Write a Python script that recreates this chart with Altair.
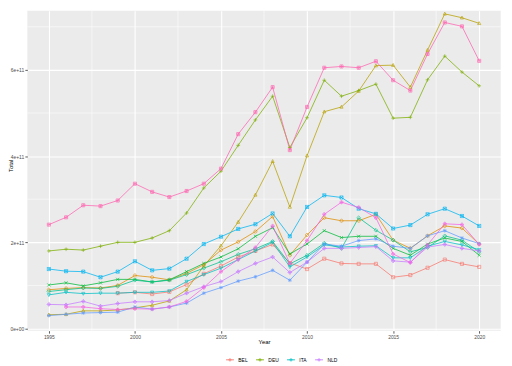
import altair as alt
import pandas as pd

years = list(range(1995, 2021))
countries = ["BEL", "CAN", "CHN", "DEU", "ESP", "FRA", "ITA", "JPN", "KOR", "NLD", "SGP", "USA"]
colors = ["#F8766D", "#DE8C00", "#B79F00", "#7CAE00", "#00BA38", "#00C08B",
          "#00BFC4", "#00B4F0", "#619CFF", "#C77CFF", "#F564E3", "#FF64B0"]
legend_values = ["BEL", "DEU", "ITA", "NLD"]

# values in units of 1e11
BEL = [None, None, None, None, 0.82, 0.84, 0.80, 0.85, 1.02, 1.27, 1.45, 1.66, 1.80, 1.95, 1.52,
       1.38, 1.62, 1.51, 1.50, 1.50, 1.19, 1.24, 1.41, 1.60, 1.50, 1.43]
CAN = [0.90, 0.93, 0.95, 0.94, 1.00, 1.23, 1.19, 1.13, 1.28, 1.48, 1.82, 2.01, 2.25, 2.60, 1.70,
       2.17, 2.57, 2.50, 2.50, 2.65, 2.05, 1.86, 2.15, 2.38, 2.33, 1.96]
CHN = [0.32, 0.33, 0.41, 0.41, 0.43, 0.48, 0.54, 0.64, 0.90, 1.45, 1.92, 2.47, 3.10, 3.88, 2.82,
       4.01, 5.03, 5.14, 5.51, 6.10, 6.11, 5.60, 6.46, 7.30, 7.21, 7.08]
DEU = [1.80, 1.84, 1.82, 1.91, 2.00, 2.00, 2.10, 2.27, 2.68, 3.26, 3.65, 4.25, 4.84, 5.39, 4.20,
       4.89, 5.76, 5.39, 5.52, 5.67, 4.88, 4.90, 5.77, 6.32, 5.95, 5.63]
ESP = [1.01, 1.06, 0.99, 1.06, 1.14, 1.14, 1.08, 1.13, 1.32, 1.51, 1.66, 1.85, 2.14, 2.34, 1.73,
       1.96, 2.27, 2.11, 2.14, 2.14, 1.86, 1.70, 1.96, 2.10, 2.02, 1.70]
FRA = [0.86, 0.90, 0.94, 0.93, 0.98, 1.12, 1.08, 1.12, 1.25, 1.40, 1.55, 1.72, 1.85, 2.02, 1.50,
       1.70, 1.98, 1.86, 2.57, 2.28, 2.05, 1.78, 1.88, 2.15, 2.05, 1.78]
ITA = [0.78, 0.84, 0.81, 0.82, 0.82, 0.84, 0.84, 0.87, 1.09, 1.25, 1.40, 1.60, 1.80, 2.00, 1.43,
       1.66, 1.94, 1.89, 1.91, 1.92, 1.64, 1.64, 1.91, 2.02, 1.94, 1.83]
JPN = [1.38, 1.33, 1.32, 1.19, 1.32, 1.56, 1.35, 1.39, 1.62, 1.96, 2.13, 2.31, 2.42, 2.67, 2.14,
       2.82, 3.09, 3.04, 2.78, 2.66, 2.32, 2.40, 2.65, 2.78, 2.61, 2.38]
KOR = [0.30, 0.33, 0.36, 0.37, 0.38, 0.50, 0.45, 0.50, 0.59, 0.82, 0.95, 1.10, 1.20, 1.35, 1.12,
       1.54, 1.96, 1.91, 2.04, 2.08, 1.91, 1.86, 2.15, 2.27, 2.10, 1.97]
NLD = [0.56, 0.55, 0.63, 0.52, 0.58, 0.62, 0.62, 0.65, 0.82, 0.97, 1.09, 1.32, 1.51, 1.66, 1.30,
       1.54, 1.86, 1.86, 1.88, 1.90, 1.57, 1.54, 1.89, 1.95, 1.86, 1.80]
SGP = [None, 0.50, 0.50, 0.46, 0.44, 0.46, 0.45, 0.50, 0.63, 0.95, 1.32, 1.60, 1.88, 2.38, 1.51,
       2.04, 2.65, 2.93, 2.81, 2.57, 1.73, 1.53, 1.94, 2.43, 2.41, 1.95]
USA = [2.41, 2.58, 2.86, 2.84, 2.97, 3.36, 3.17, 3.05, 3.19, 3.36, 3.71, 4.51, 5.02, 5.60, 4.14,
       5.14, 6.05, 6.08, 6.05, 6.20, 5.76, 5.52, 6.37, 7.10, 7.01, 6.21]

series = dict(BEL=BEL, CAN=CAN, CHN=CHN, DEU=DEU, ESP=ESP, FRA=FRA, ITA=ITA,
              JPN=JPN, KOR=KOR, NLD=NLD, SGP=SGP, USA=USA)

x_minor = [1997.5, 2002.5, 2007.5, 2012.5, 2017.5]
y_minor = [1, 3, 5, 7]
x_ticks = [1995, 2000, 2005, 2010, 2015, 2020]
y_ticks = [0, 2, 4, 6]

rows = []
for c in countries:
    for yr, v in zip(years, series[c]):
        if v is not None:
            rows.append({"Year": yr, "Total": v, "Country": c, "Marker": c})
df = pd.DataFrame(rows)

shapes = [
    "M-1,-1H1V1H-1Z",
    "M-1,0A1,1 0 1,0 1,0A1,1 0 1,0 -1,0Z",
    "M0,-1.1L1,0.8H-1Z",
    "M-1.2,0H1.2M0,-1.2V1.2",
    "M-1,-1L1,1M-1,1L1,-1",
    "M0,-1.2L1.2,0L0,1.2L-1.2,0Z",
    "M0,1.1L1,-0.8H-1Z",
    "M-1,-1H1V1H-1ZM-1,-1L1,1M-1,1L1,-1",
    "M-1.2,0H1.2M0,-1.2V1.2M-0.9,-0.9L0.9,0.9M-0.9,0.9L0.9,-0.9",
    "M0,-1.2L1.2,0L0,1.2L-1.2,0ZM-1.2,0H1.2M0,-1.2V1.2",
    "M-1,0A1,1 0 1,0 1,0A1,1 0 1,0 -1,0ZM-1,0H1M0,-1V1",
    "M-1,-1H1V1H-1ZM-1,0H1M0,-1V1",
]
legend_key = "M-1,0H1M0,-0.42V0.42M-0.42,0H0.42"

xscale = alt.Scale(domain=[1993.75, 2021.25], nice=False, zero=False)
yscale = alt.Scale(domain=[-0.05, 7.37], nice=False, zero=False)
color_scale = alt.Scale(domain=countries, range=colors)

FONT = "Liberation Sans"

x_axis = alt.Axis(values=x_ticks, format="d", title="Year", labelFontSize=5,
                  labelColor="#4D4D4D", tickColor="#333333", tickSize=2.5, tickWidth=0.8,
                  domain=False, grid=True, gridColor="white", gridWidth=1.1,
                  labelPadding=1.2, titleFontSize=6, titleFontWeight="normal",
                  titleColor="black", titleY=11.5, titleBaseline="middle", labelFont=FONT,
                  titleFont=FONT)
y_axis = alt.Axis(values=y_ticks, title="Total",
                  labelExpr="datum.value == 0 ? '0e+00' : datum.value + 'e+11'",
                  labelFontSize=5, labelColor="#4D4D4D", tickColor="#333333", tickSize=2.5,
                  tickWidth=0.8, domain=False, grid=True, gridColor="white", gridWidth=1.1,
                  labelPadding=1.2, titleFontSize=6, titleFontWeight="normal",
                  titleColor="black", titleAngle=270, titleX=-17, titleY=157,
                  titleBaseline="middle", titleAlign="center", labelFont=FONT, titleFont=FONT)

xminor = alt.Chart(pd.DataFrame({"Year": x_minor})).mark_rule(
    color="white", strokeWidth=0.55).encode(x=alt.X("Year:Q", scale=xscale))
yminor = alt.Chart(pd.DataFrame({"Total": y_minor})).mark_rule(
    color="white", strokeWidth=0.55).encode(y=alt.Y("Total:Q", scale=yscale))

base = alt.Chart(df).encode(
    x=alt.X("Year:Q", scale=xscale, axis=x_axis),
    y=alt.Y("Total:Q", scale=yscale, axis=y_axis),
)

lines = base.mark_line(strokeWidth=0.85, opacity=0.9).encode(
    color=alt.Color("Country:N", scale=color_scale,
                    legend=alt.Legend(values=legend_values, title=None,
                                      symbolType=legend_key, symbolStrokeWidth=1,
                                      symbolFillColor="transparent")),
    detail="Country:N",
)
points = base.mark_point(filled=False, size=10, strokeWidth=0.7, opacity=0.9).encode(
    color=alt.Color("Country:N", scale=color_scale, legend=None),
    shape=alt.Shape("Marker:N", scale=alt.Scale(domain=countries, range=shapes), legend=None),
)

chart = alt.layer(xminor, yminor, lines, points).resolve_legend(
    color="independent", shape="independent"
).properties(
    width=481, height=325,
    autosize=alt.AutoSizeParams(type="none"),
    padding={"left": 19.65, "top": 0, "right": 3.35, "bottom": 33},
    background="white",
).configure_view(
    fill="#EBEBEB", stroke=None
).configure_legend(
    orient="none", legendX=201.4, legendY=349.7, direction="horizontal",
    symbolSize=64, labelFontSize=5, labelFont=FONT,
    labelColor="black", labelOffset=4, columnPadding=5.5, padding=0,
)

chart.save("out.html", embed_options={"renderer": "svg", "actions": False})
